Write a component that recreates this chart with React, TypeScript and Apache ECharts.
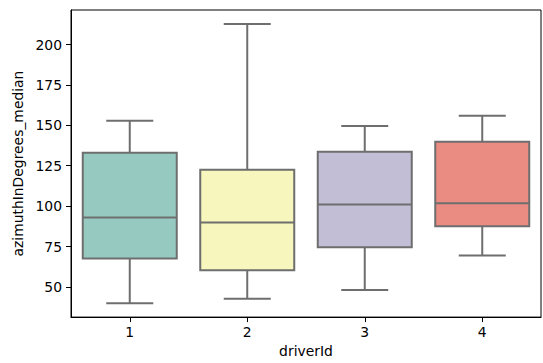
import React, { useEffect, useRef } from "react";
import * as echarts from "echarts";

const categories = ["1", "2", "3", "4"];
const lowWhisker = [39.9, 42.6, 48.1, 69.4];
const q1 = [67.5, 60.3, 74.5, 87.5];
const median = [93.0, 89.9, 101.0, 101.7];
const q3 = [133.1, 122.5, 133.6, 139.8];
const highWhisker = [152.9, 212.8, 149.6, 156.0];
const boxColors = ["#96cac1", "#f6f6bd", "#c1bed6", "#ea8c82"];
const yTicks = [50, 75, 100, 125, 150, 175, 200];

export default function App() {
  const ref = useRef<HTMLDivElement>(null);
  useEffect(() => {
    if (!ref.current) return;
    const chart = echarts.init(ref.current, null, { renderer: "svg" });
    const data = categories.map((c, i) => [i, lowWhisker[i], q1[i], median[i], q3[i], highWhisker[i]]);
    const edge = "#6e6e6e";
    const font = "DejaVu Sans";
    chart.setOption({
      animation: false,
      grid: {
        left: 71,
        top: 10,
        width: 470,
        height: 308,
        show: true,
        borderColor: "#000",
        borderWidth: 1,
        backgroundColor: "transparent",
      },
      xAxis: {
        type: "category",
        data: categories,
        boundaryGap: true,
        name: "driverId",
        nameLocation: "middle",
        nameGap: 24,
        nameTextStyle: { fontFamily: font, fontSize: 13.9, color: "#000" },
        axisLine: { show: true, lineStyle: { color: "#000", width: 1 } },
        axisTick: { show: true, alignWithLabel: true, length: 5, lineStyle: { color: "#000" } },
        axisLabel: { fontFamily: font, fontSize: 13.9, color: "#000", margin: 8 },
        splitLine: { show: false },
      },
      yAxis: {
        type: "value",
        min: 31.3,
        max: 221.4,
        name: "azimuthInDegrees_median",
        nameLocation: "middle",
        nameGap: 43,
        nameTextStyle: { fontFamily: font, fontSize: 13.9, color: "#000" },
        axisLine: { show: true, lineStyle: { color: "#000", width: 1 } },
        axisTick: { show: true, length: 5, lineStyle: { color: "#000" }, customValues: yTicks },
        axisLabel: { fontFamily: font, fontSize: 13.9, color: "#000", margin: 9, customValues: yTicks },
        splitLine: { show: false },
      },
      series: [
        {
          type: "custom",
          data,
          clip: false,
          renderItem: (params: any, api: any) => {
            const idx = api.value(0);
            const band = api.size([1, 0])[0];
            const half = band * 0.4;
            const capHalf = band * 0.2;
            const pLow = api.coord([idx, api.value(1)]);
            const pQ1 = api.coord([idx, api.value(2)]);
            const pMed = api.coord([idx, api.value(3)]);
            const pQ3 = api.coord([idx, api.value(4)]);
            const pHigh = api.coord([idx, api.value(5)]);
            const cx = pMed[0];
            const ls = { stroke: edge, lineWidth: 2, fill: null };
            return {
              type: "group",
              children: [
                { type: "line", shape: { x1: cx, y1: pQ1[1], x2: cx, y2: pLow[1] }, style: ls },
                { type: "line", shape: { x1: cx, y1: pQ3[1], x2: cx, y2: pHigh[1] }, style: ls },
                { type: "line", shape: { x1: cx - capHalf, y1: pLow[1], x2: cx + capHalf, y2: pLow[1] }, style: ls },
                { type: "line", shape: { x1: cx - capHalf, y1: pHigh[1], x2: cx + capHalf, y2: pHigh[1] }, style: ls },
                {
                  type: "rect",
                  shape: { x: cx - half, y: pQ3[1], width: half * 2, height: pQ1[1] - pQ3[1] },
                  style: { fill: boxColors[idx], stroke: edge, lineWidth: 2 },
                },
                { type: "line", shape: { x1: cx - half, y1: pMed[1], x2: cx + half, y2: pMed[1] }, style: ls },
              ],
            };
          },
        },
      ],
    });
    return () => chart.dispose();
  }, []);
  return <div ref={ref} style={{ width: 543, height: 363, position: "absolute", left: 0, top: 0 }} />;
}
